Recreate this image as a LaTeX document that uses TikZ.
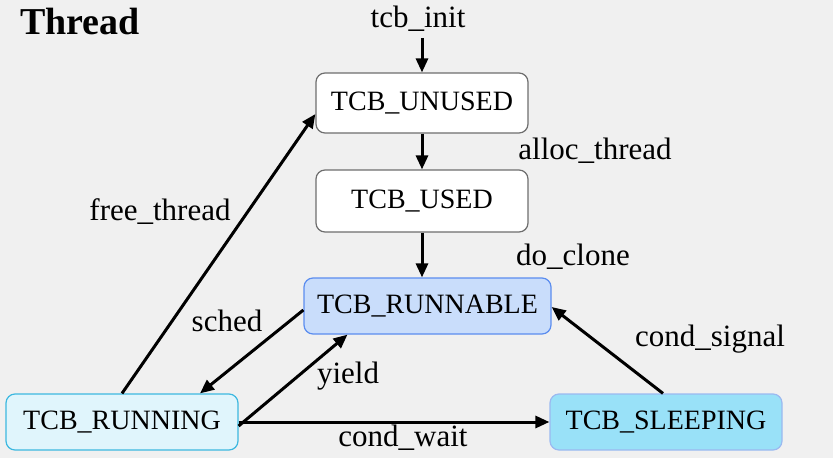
\documentclass[tikz,border=0pt]{standalone}
\usepackage{fontspec}
\setmainfont{Liberation Serif}
\usetikzlibrary{arrows.meta}
\definecolor{bg}{HTML}{F0F0F0}
\definecolor{whitebd}{HTML}{6E6E6E}
\definecolor{runnablefill}{HTML}{C9DDFB}
\definecolor{runnablebd}{HTML}{5B8DEF}
\definecolor{runningfill}{HTML}{E0F5FC}
\definecolor{runningbd}{HTML}{3DB8E0}
\definecolor{sleepfill}{HTML}{99E1F8}
\definecolor{sleepbd}{HTML}{9BB9F0}
\tikzset{
  state/.style={draw=whitebd, fill=white, rounded corners=9pt, line width=1.2pt, inner sep=0pt, font=\fontsize{28}{30}\selectfont},
  lbl/.style={font=\fontsize{31}{33}\selectfont, inner sep=0pt},
  tr/.style={-{Triangle[length=14pt,width=12pt]}, line width=3pt, black}
}
\begin{document}
\begin{tikzpicture}[x=1pt,y=-1pt]
\fill[bg] (0,0) rectangle (833,458);
\useasboundingbox (0,0) rectangle (833,458);
\node[font=\fontsize{38}{40}\selectfont\bfseries, inner sep=0pt] (title) at (80,22) {Thread};
\node[state, minimum width=212pt, minimum height=60pt] (unused) at (422,103) {TCB\_UNUSED};
\node[state, minimum width=212pt, minimum height=62pt] (used) at (422,201) {TCB\_USED};
\node[state, draw=runnablebd, fill=runnablefill, minimum width=247pt, minimum height=56pt] (runnable) at (427.5,306) {TCB\_RUNNABLE};
\node[state, draw=runningbd, fill=runningfill, minimum width=232pt, minimum height=56pt] (running) at (122,422) {TCB\_RUNNING};
\node[state, draw=sleepbd, fill=sleepfill, minimum width=232pt, minimum height=56pt] (sleeping) at (666,422) {TCB\_SLEEPING};

\node[lbl] (init) at (418,19) {tcb\_init};
\node[lbl] (lalloc) at (595,151) {alloc\_thread};
\node[lbl] (lfree) at (160,212) {free\_thread};
\node[lbl] (lclone) at (573,257) {do\_clone};
\node[lbl] (lsched) at (227,321) {sched};
\node[lbl] (lyield) at (348,376) {yield};
\node[lbl] (lsignal) at (710,339) {cond\_signal};
\node[lbl] (lwait) at (403,438) {cond\_wait};

\draw[tr] (init.south -| unused.north) ++(0,6) -- (unused.north);
\draw[tr] (unused.south) -- (used.north);
\draw[tr] (used.south) -- (runnable.north -| used.south);
\draw[tr] (running.north) -- ([yshift=-11pt]unused.west);
\draw[tr] ([yshift=-4pt]runnable.west) -- ([xshift=78pt]running.north);
\draw[tr] ([yshift=-4pt]running.east) -- ([xshift=-80pt]runnable.south);
\draw[tr] (running.east) -- (sleeping.west);
\draw[tr] ([xshift=-3pt]sleeping.north) -- ([yshift=-1pt]runnable.east);
\end{tikzpicture}
\end{document}
